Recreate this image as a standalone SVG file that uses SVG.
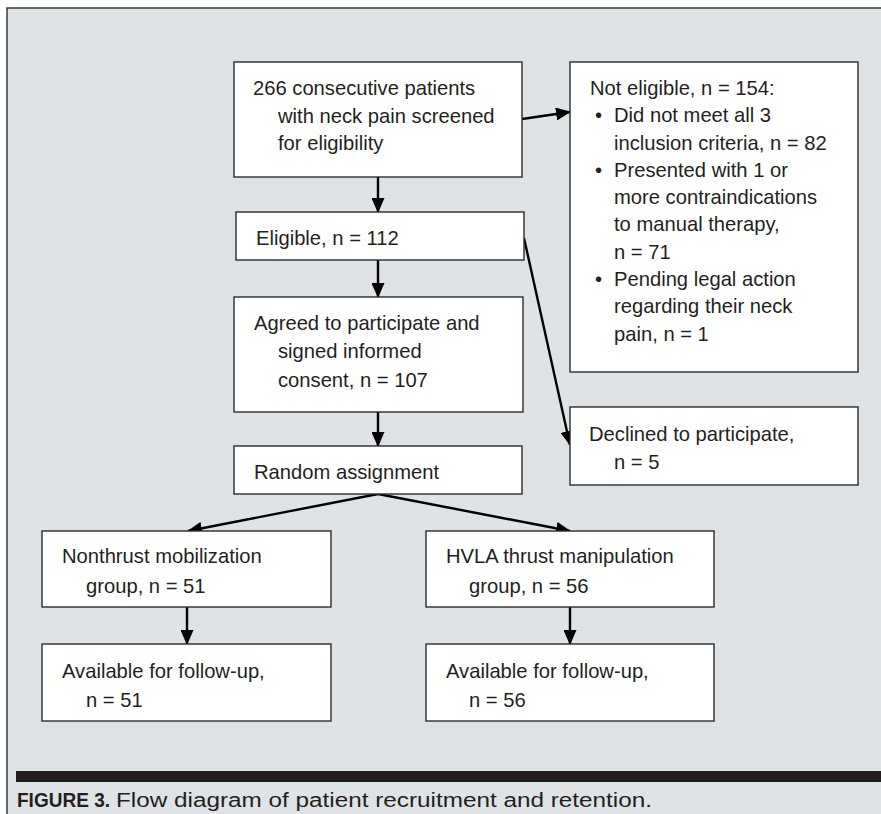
<svg xmlns="http://www.w3.org/2000/svg" width="881" height="814" viewBox="0 0 881 814">
<style>
.box{fill:#ffffff;stroke:#2b2b2b;stroke-width:1.4}
.t{font-family:"Liberation Sans",Arial,sans-serif;font-size:20.2px;fill:#231f20}
.c{stroke:#000;stroke-width:2.4;fill:none}
.cap{font-family:"Liberation Sans",Arial,sans-serif;font-size:20px;fill:#231f20}
</style>
<defs>
<marker id="ah" markerUnits="userSpaceOnUse" markerWidth="15" markerHeight="13" refX="14" refY="6.5" orient="auto">
<path d="M0,0 L15,6.5 L0,13 z" fill="#000"/>
</marker>
</defs>
<rect x="0" y="0" width="881" height="814" fill="#ffffff"/>
<rect x="7" y="8" width="880" height="812" fill="#dfe3e6" stroke="#2b2b2b" stroke-width="1.4"/>
<rect x="16" y="771" width="865" height="11" fill="#231f20"/>
<text class="cap" x="17" y="807" font-weight="bold" textLength="93" lengthAdjust="spacingAndGlyphs">FIGURE 3.</text>
<text class="cap" x="116" y="807" textLength="536" lengthAdjust="spacingAndGlyphs">Flow diagram of patient recruitment and retention.</text>

<g id="connectors">
<line class="c" x1="378" y1="177" x2="378" y2="212" marker-end="url(#ah)"/>
<line class="c" x1="522" y1="119" x2="570" y2="112" marker-end="url(#ah)"/>
<line class="c" x1="378" y1="260" x2="378" y2="297" marker-end="url(#ah)"/>
<line class="c" x1="524" y1="238" x2="570" y2="445" marker-end="url(#ah)"/>
<line class="c" x1="378" y1="412" x2="378" y2="446" marker-end="url(#ah)"/>
<line class="c" x1="378" y1="494" x2="188" y2="531" marker-end="url(#ah)"/>
<line class="c" x1="378" y1="494" x2="570" y2="531" marker-end="url(#ah)"/>
<line class="c" x1="187" y1="607" x2="187" y2="644" marker-end="url(#ah)"/>
<line class="c" x1="570" y1="607" x2="570" y2="644" marker-end="url(#ah)"/>
</g>

<g id="screened">
<rect class="box" x="234" y="62" width="288" height="115"/>
<text class="t" x="253" y="95">266 consecutive patients</text>
<text class="t" x="278" y="123">with neck pain screened</text>
<text class="t" x="278" y="150">for eligibility</text>
</g>

<g id="not-eligible">
<rect class="box" x="570" y="62" width="288" height="310"/>
<text class="t" x="590" y="95">Not eligible, n = 154:</text>
<text class="t" x="595" y="122">•</text>
<text class="t" x="614" y="122">Did not meet all 3</text>
<text class="t" x="614" y="150">inclusion criteria, n = 82</text>
<text class="t" x="595" y="177">•</text>
<text class="t" x="614" y="177">Presented with 1 or</text>
<text class="t" x="614" y="204">more contraindications</text>
<text class="t" x="614" y="231">to manual therapy,</text>
<text class="t" x="614" y="259">n = 71</text>
<text class="t" x="595" y="286">•</text>
<text class="t" x="614" y="286">Pending legal action</text>
<text class="t" x="614" y="313">regarding their neck</text>
<text class="t" x="614" y="341">pain, n = 1</text>
</g>

<g id="eligible">
<rect class="box" x="236" y="212" width="288" height="48"/>
<text class="t" x="256" y="245">Eligible, n = 112</text>
</g>

<g id="agreed">
<rect class="box" x="234" y="297" width="289" height="115"/>
<text class="t" x="254" y="330">Agreed to participate and</text>
<text class="t" x="278" y="358">signed informed</text>
<text class="t" x="278" y="387">consent, n = 107</text>
</g>

<g id="declined">
<rect class="box" x="570" y="407" width="288" height="78"/>
<text class="t" x="589" y="441">Declined to participate,</text>
<text class="t" x="614" y="469">n = 5</text>
</g>

<g id="random">
<rect class="box" x="234" y="446" width="288" height="48"/>
<text class="t" x="254" y="479">Random assignment</text>
</g>

<g id="nonthrust">
<rect class="box" x="42" y="531" width="289" height="76"/>
<text class="t" x="62" y="563">Nonthrust mobilization</text>
<text class="t" x="86" y="593">group, n = 51</text>
</g>

<g id="hvla">
<rect class="box" x="426" y="531" width="288" height="76"/>
<text class="t" x="446" y="563">HVLA thrust manipulation</text>
<text class="t" x="469" y="593">group, n = 56</text>
</g>

<g id="followup-left">
<rect class="box" x="42" y="644" width="289" height="77"/>
<text class="t" x="62" y="678">Available for follow-up,</text>
<text class="t" x="86" y="707">n = 51</text>
</g>

<g id="followup-right">
<rect class="box" x="426" y="644" width="288" height="77"/>
<text class="t" x="446" y="678">Available for follow-up,</text>
<text class="t" x="469" y="707">n = 56</text>
</g>
</svg>
